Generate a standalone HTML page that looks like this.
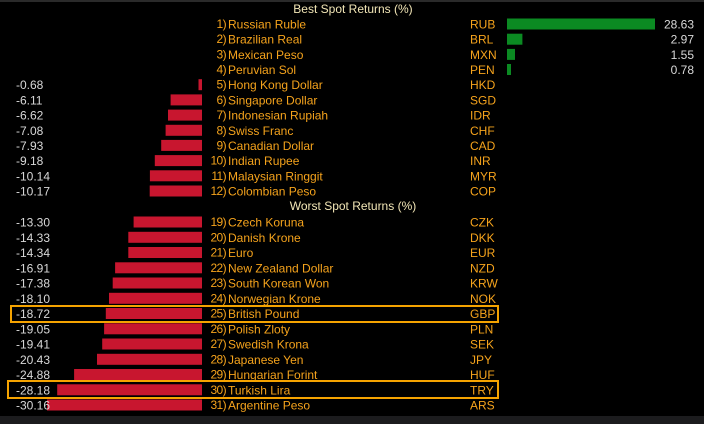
<!DOCTYPE html>
<html><head><meta charset="utf-8"><style>
html,body{margin:0;padding:0;background:#000;}
svg{display:block;}
text{font-family:"Liberation Sans",sans-serif;font-size:12px;}
.o{fill:#f5a31c;}
.n{fill:#f5a31c;font-size:8.5px;letter-spacing:-0.6px;}
.v{fill:#d8d8d8;}
.h{fill:#f2e6b6;}
</style></head><body>
<svg width="704" height="424" viewBox="0 0 704 424" xmlns="http://www.w3.org/2000/svg">
<rect width="704" height="424" fill="#000"/>
<rect x="0" y="0" width="704" height="2" fill="#2a2a2a"/>
<rect x="0" y="416" width="704" height="8" fill="#1c1c1e"/>
<text class="h" x="353" y="13" text-anchor="middle">Best Spot Returns (%)</text>
<text class="h" x="353" y="210" text-anchor="middle">Worst Spot Returns (%)</text>
<g fill="#0b8a22">
<rect x="507" y="18.5" width="148" height="11"/>
<rect x="507" y="33.7" width="15.4" height="11"/>
<rect x="507" y="48.9" width="8" height="11"/>
<rect x="507" y="64" width="4" height="11"/>
</g>
<g class="v" text-anchor="end">
<text x="694" y="28.5">28.63</text>
<text x="694" y="43.7">2.97</text>
<text x="694" y="58.9">1.55</text>
<text x="694" y="74">0.78</text>
</g>
<g fill="#c8162f">
<rect x="198.5" y="79.2" width="3.5" height="11"/>
<rect x="170.6" y="94.4" width="31.4" height="11"/>
<rect x="168" y="109.6" width="34" height="11"/>
<rect x="165.6" y="124.8" width="36.4" height="11"/>
<rect x="161.2" y="139.9" width="40.8" height="11"/>
<rect x="154.8" y="155.1" width="47.2" height="11"/>
<rect x="149.9" y="170.3" width="52.1" height="11"/>
<rect x="149.7" y="185.5" width="52.3" height="11"/>
<rect x="133.6" y="216.5" width="68.4" height="11"/>
<rect x="128.3" y="231.8" width="73.7" height="11"/>
<rect x="128.3" y="247" width="73.7" height="11"/>
<rect x="115.1" y="262.3" width="86.9" height="11"/>
<rect x="112.7" y="277.5" width="89.3" height="11"/>
<rect x="109" y="292.8" width="93" height="11"/>
<rect x="105.8" y="308" width="96.2" height="11"/>
<rect x="104.1" y="323.3" width="97.9" height="11"/>
<rect x="102.2" y="338.5" width="99.8" height="11"/>
<rect x="97" y="353.8" width="105" height="11"/>
<rect x="74.1" y="369" width="127.9" height="11"/>
<rect x="57.2" y="384.3" width="144.8" height="11"/>
<rect x="47" y="399.5" width="155" height="11"/>
</g>
<g class="v">
<text x="16" y="89.2">-0.68</text>
<text x="16" y="104.4">-6.11</text>
<text x="16" y="119.6">-6.62</text>
<text x="16" y="134.8">-7.08</text>
<text x="16" y="149.9">-7.93</text>
<text x="16" y="165.1">-9.18</text>
<text x="16" y="180.3">-10.14</text>
<text x="16" y="195.5">-10.17</text>
<text x="16" y="226.5">-13.30</text>
<text x="16" y="241.8">-14.33</text>
<text x="16" y="257">-14.34</text>
<text x="16" y="272.3">-16.91</text>
<text x="16" y="287.5">-17.38</text>
<text x="16" y="302.8">-18.10</text>
<text x="16" y="318">-18.72</text>
<text x="16" y="333.3">-19.05</text>
<text x="16" y="348.5">-19.41</text>
<text x="16" y="363.8">-20.43</text>
<text x="16" y="379">-24.88</text>
<text x="16" y="394.3">-28.18</text>
<text x="16" y="409.5">-30.16</text>
</g>
<g class="n" text-anchor="end">
<text x="226" y="28">1)</text><text x="226" y="43.2">2)</text><text x="226" y="58.4">3)</text><text x="226" y="73.5">4)</text>
<text x="226" y="88.7">5)</text><text x="226" y="103.9">6)</text><text x="226" y="119.1">7)</text><text x="226" y="134.3">8)</text>
<text x="226" y="149.4">9)</text><text x="226" y="164.6">10)</text><text x="226" y="179.8">11)</text><text x="226" y="195">12)</text>
<text x="226" y="226">19)</text><text x="226" y="241.3">20)</text><text x="226" y="256.5">21)</text><text x="226" y="271.8">22)</text>
<text x="226" y="287">23)</text><text x="226" y="302.3">24)</text><text x="226" y="317.5">25)</text><text x="226" y="332.8">26)</text>
<text x="226" y="348">27)</text><text x="226" y="363.3">28)</text><text x="226" y="378.5">29)</text><text x="226" y="393.8">30)</text><text x="226" y="409">31)</text>
</g>
<g class="o">
<text x="228" y="28.5">Russian Ruble</text><text x="470" y="28.5">RUB</text>
<text x="228" y="43.7">Brazilian Real</text><text x="470" y="43.7">BRL</text>
<text x="228" y="58.9">Mexican Peso</text><text x="470" y="58.9">MXN</text>
<text x="228" y="74">Peruvian Sol</text><text x="470" y="74">PEN</text>
<text x="228" y="89.2">Hong Kong Dollar</text><text x="470" y="89.2">HKD</text>
<text x="228" y="104.4">Singapore Dollar</text><text x="470" y="104.4">SGD</text>
<text x="228" y="119.6">Indonesian Rupiah</text><text x="470" y="119.6">IDR</text>
<text x="228" y="134.8">Swiss Franc</text><text x="470" y="134.8">CHF</text>
<text x="228" y="149.9">Canadian Dollar</text><text x="470" y="149.9">CAD</text>
<text x="228" y="165.1">Indian Rupee</text><text x="470" y="165.1">INR</text>
<text x="228" y="180.3">Malaysian Ringgit</text><text x="470" y="180.3">MYR</text>
<text x="228" y="195.5">Colombian Peso</text><text x="470" y="195.5">COP</text>
<text x="228" y="226.5">Czech Koruna</text><text x="470" y="226.5">CZK</text>
<text x="228" y="241.8">Danish Krone</text><text x="470" y="241.8">DKK</text>
<text x="228" y="257">Euro</text><text x="470" y="257">EUR</text>
<text x="228" y="272.3">New Zealand Dollar</text><text x="470" y="272.3">NZD</text>
<text x="228" y="287.5">South Korean Won</text><text x="470" y="287.5">KRW</text>
<text x="228" y="302.8">Norwegian Krone</text><text x="470" y="302.8">NOK</text>
<text x="228" y="318">British Pound</text><text x="470" y="318">GBP</text>
<text x="228" y="333.3">Polish Zloty</text><text x="470" y="333.3">PLN</text>
<text x="228" y="348.5">Swedish Krona</text><text x="470" y="348.5">SEK</text>
<text x="228" y="363.8">Japanese Yen</text><text x="470" y="363.8">JPY</text>
<text x="228" y="379">Hungarian Forint</text><text x="470" y="379">HUF</text>
<text x="228" y="394.3">Turkish Lira</text><text x="470" y="394.3">TRY</text>
<text x="228" y="409.5">Argentine Peso</text><text x="470" y="409.5">ARS</text>
</g>
<g fill="none" stroke="#f5a300" stroke-width="2">
<rect x="11" y="306" width="487" height="16"/>
<rect x="8" y="381" width="490" height="17"/>
</g>
</svg>
</body></html>
